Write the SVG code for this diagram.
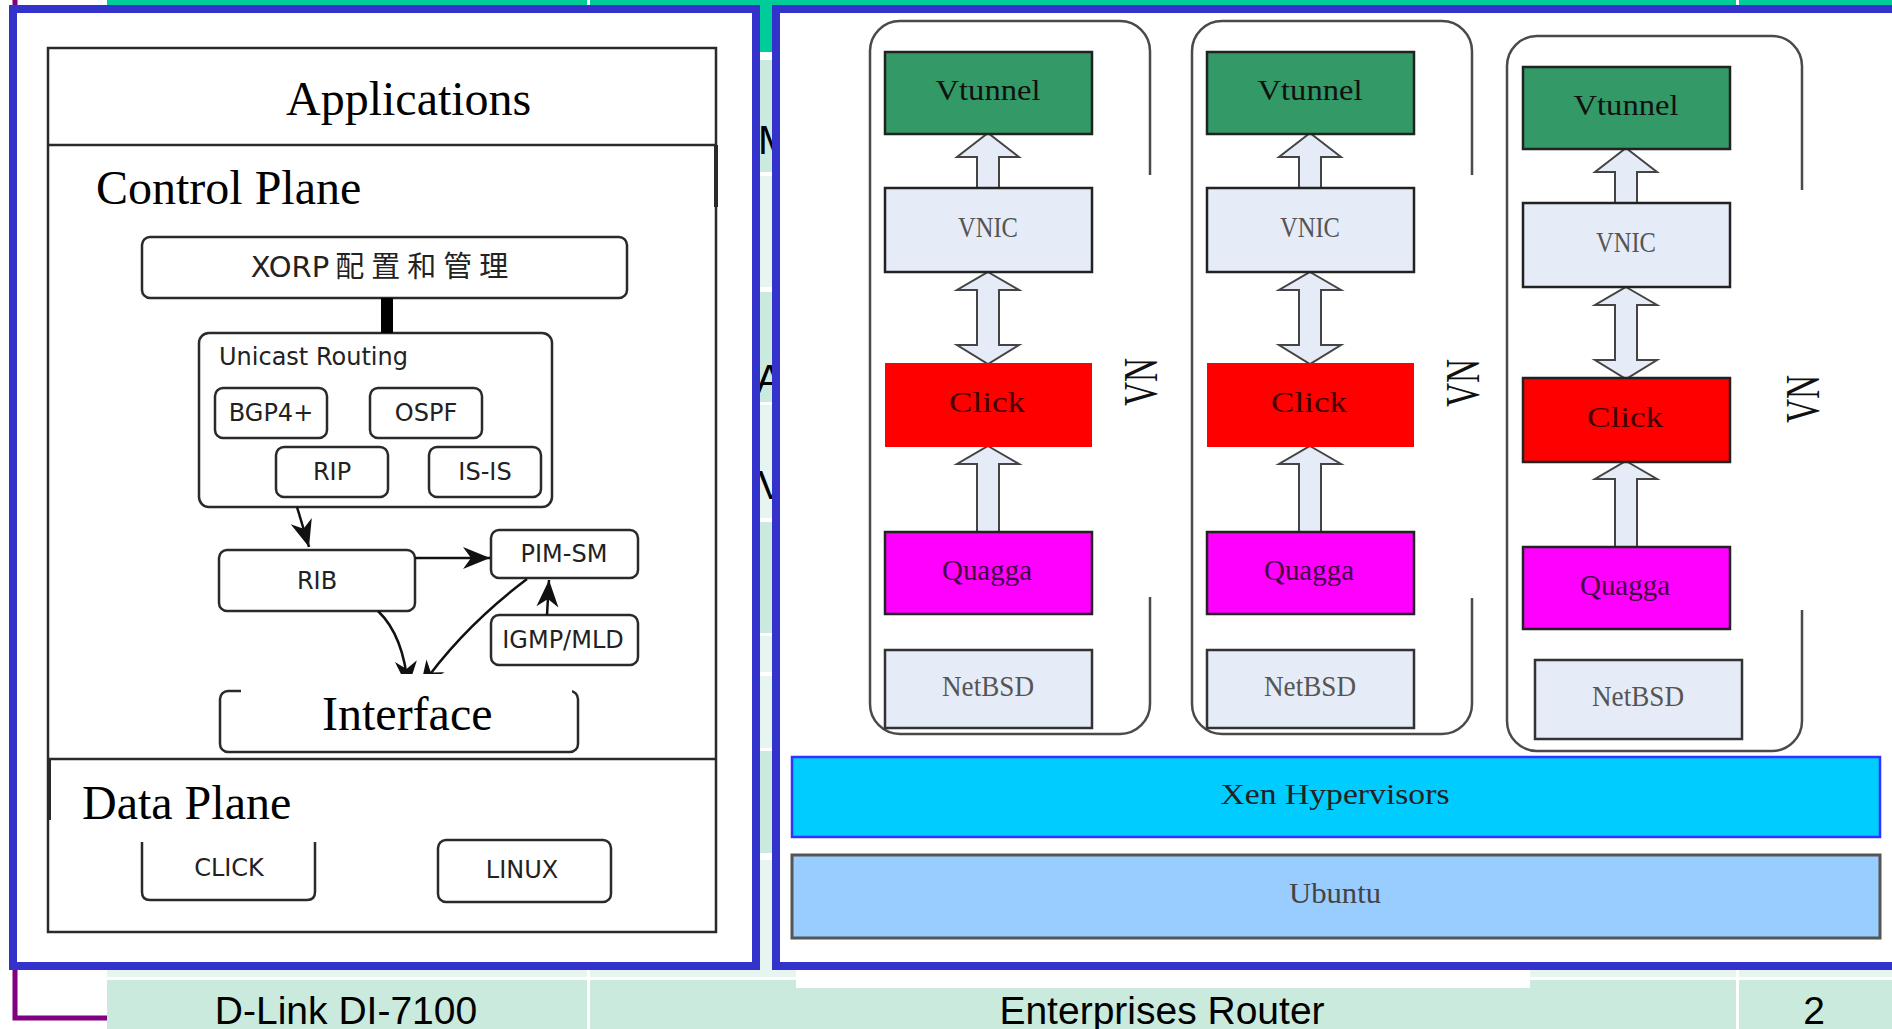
<svg xmlns="http://www.w3.org/2000/svg" width="1892" height="1029" viewBox="0 0 1892 1029">
<defs>
<style>
.dk{fill:#c9eadc}
.lt{fill:#e6f5ef}
.wl{fill:#ffffff}
.panel{fill:#ffffff;stroke:#3333cc;stroke-width:8}
.frame{fill:none;stroke:#2a2a2a;stroke-width:2.5}
.box{fill:#ffffff;stroke:#2a2a2a;stroke-width:2.5}
.lbl{font-family:"DejaVu Sans",sans-serif;font-size:24px;fill:#222;text-anchor:middle}
.big{font-family:"Liberation Serif",serif;font-size:48px;fill:#000}
.tbl{font-family:"Liberation Sans",Arial,sans-serif;font-size:39px;fill:#000;text-anchor:middle}
.conn{fill:none;stroke:#111;stroke-width:2.5}
.vm{fill:none;stroke:#4a4a4a;stroke-width:2.5}
.vt{fill:#339966;stroke:#222;stroke-width:2.5}
.nic{fill:#e6ecf7;stroke:#222;stroke-width:2.5}
.clk{fill:#ff0000}
.qg{fill:#ff00ff;stroke:#222;stroke-width:2.5}
.bsd{fill:#e6ecf7;stroke:#333;stroke-width:2.5}
.blk{fill:#e6ecf7;stroke:#444;stroke-width:2;stroke-linejoin:miter}
.st{font-family:"Liberation Serif",serif;font-size:30px;text-anchor:middle}
.vn{font-family:"Liberation Serif",serif;font-size:48px;text-anchor:middle;fill:#111}
</style>
<marker id="ah" markerUnits="userSpaceOnUse" viewBox="-28 -12 29 24" markerWidth="29" markerHeight="24" refX="0" refY="0" orient="auto">
<path d="M0,0 L-27,-11 L-19,0 L-27,11 Z" fill="#111"/>
</marker>
</defs>

<g id="background">
<rect x="0" y="0" width="1892" height="1029" fill="#ffffff"/>
<rect x="107" y="0" width="1785" height="52" fill="#00cc99"/>
<rect class="dk" x="107" y="60" width="1785" height="112"/>
<rect class="lt" x="107" y="176" width="1785" height="111"/>
<rect class="dk" x="107" y="292" width="1785" height="110"/>
<rect class="lt" x="107" y="405" width="1785" height="113"/>
<rect class="dk" x="107" y="522" width="1785" height="111"/>
<rect class="lt" x="107" y="636" width="1785" height="36"/>
<rect class="lt" x="107" y="676" width="1785" height="72"/>
<rect class="dk" x="107" y="751" width="1785" height="102"/>
<rect class="lt" x="107" y="860" width="1785" height="117"/>
<rect class="dk" x="107" y="980" width="1785" height="49"/>
<rect class="wl" x="587" y="0" width="3" height="1029"/>
<rect class="wl" x="1736" y="0" width="3" height="1029"/>
<text x="758" y="154" font-family="Liberation Sans, Arial, sans-serif" font-size="40" fill="#000">M</text>
<text x="756" y="393" font-family="Liberation Sans, Arial, sans-serif" font-size="40" fill="#000">A</text>
<text x="758" y="499" font-family="Liberation Sans, Arial, sans-serif" font-size="40" fill="#000">V</text>
<rect x="796" y="970" width="734" height="18" fill="#ffffff"/>
<text class="tbl" x="346" y="1024">D-Link DI-7100</text>
<text class="tbl" x="1162" y="1024">Enterprises Router</text>
<text class="tbl" x="1814" y="1024">2</text>
<path d="M15,0 L15,1018 L107,1018" fill="none" stroke="#800080" stroke-width="5"/>
</g>

<g id="left-panel">
<rect class="panel" x="13" y="9" width="743" height="957"/>
<g id="frame">
<path class="frame" d="M48,48 L716,48 L716,932 L48,932 Z"/>
<line class="frame" x1="48" y1="145" x2="716" y2="145"/>
<line class="frame" x1="48" y1="759" x2="716" y2="759"/>
<line x1="716" y1="145" x2="716" y2="207" stroke="#2a2a2a" stroke-width="4"/>
<line x1="49" y1="760" x2="49" y2="820" stroke="#2a2a2a" stroke-width="4"/>
</g>
<g id="applications"><text class="big" x="286" y="115">Applications</text></g>
<g id="control-plane"><text class="big" x="96" y="204">Control Plane</text></g>
<g id="xorp">
<rect class="box" x="142" y="237" width="485" height="61" rx="8"/>
<text x="383" y="277" text-anchor="middle" font-family="DejaVu Sans, sans-serif" font-size="29" fill="#222"><tspan>XORP</tspan><tspan dx="6" font-family="Noto Sans CJK SC, sans-serif" letter-spacing="7">配置和管理</tspan></text>
</g>
<g id="unicast">
<rect class="box" x="199" y="333" width="353" height="174" rx="10"/>
<text class="lbl" x="219" y="365" style="text-anchor:start">Unicast Routing</text>
</g>
<g id="bgp"><rect class="box" x="215" y="388" width="112" height="50" rx="8"/><text class="lbl" x="271" y="421">BGP4+</text></g>
<g id="ospf"><rect class="box" x="370" y="388" width="112" height="50" rx="8"/><text class="lbl" x="426" y="421">OSPF</text></g>
<g id="rip"><rect class="box" x="276" y="447" width="112" height="50" rx="8"/><text class="lbl" x="332" y="480">RIP</text></g>
<g id="isis"><rect class="box" x="429" y="447" width="112" height="50" rx="8"/><text class="lbl" x="485" y="480">IS-IS</text></g>
<g id="rib"><rect class="box" x="219" y="550" width="196" height="61" rx="8"/><text class="lbl" x="317" y="589">RIB</text></g>
<g id="pimsm"><rect class="box" x="491" y="530" width="147" height="48" rx="8"/><text class="lbl" x="564" y="562">PIM-SM</text></g>
<g id="igmp"><rect class="box" x="491" y="615" width="147" height="50" rx="8"/><text class="lbl" x="563" y="648">IGMP/MLD</text></g>
<g id="left-connectors">
<rect x="381" y="298" width="12" height="35" fill="#000"/>
<path class="conn" d="M297,507 L309,547" marker-end="url(#ah)"/>
<path class="conn" d="M415,558 L490,558" stroke-width="3.5" marker-end="url(#ah)"/>
<path class="conn" d="M547,615 L549,580" marker-end="url(#ah)"/>
<path class="conn" d="M378,611 Q404,636 408,688" marker-end="url(#ah)"/>
<path class="conn" d="M527,579 Q462,628 420,688" marker-end="url(#ah)"/>
</g>
<g id="interface">
<rect class="box" x="220" y="691" width="358" height="61" rx="8"/>
<rect x="241" y="674" width="331" height="19" fill="#ffffff"/>
<text class="big" x="322" y="730">Interface</text>
</g>
<g id="data-plane"><text class="big" x="82" y="819">Data Plane</text></g>
<g id="click-dp">
<path class="frame" d="M142,842 L142,892 Q142,900 150,900 L307,900 Q315,900 315,892 L315,842"/>
<text class="lbl" x="229" y="876">CLICK</text>
</g>
<g id="linux"><rect class="box" x="438" y="840" width="173" height="62" rx="8"/><text class="lbl" x="522" y="878">LINUX</text></g>
</g>

<g id="right-panel">
<rect class="panel" x="776" y="9" width="1130" height="957"/>
</g>

<g id="connectors">
<path class="blk" d="M988,133 L1019,157 L999,157 L999,188 L977,188 L977,157 L957,157 Z"/>
<path class="blk" d="M988,272 L1019,290 L999,290 L999,345 L1019,345 L988,364 L957,345 L977,345 L977,290 L957,290 Z"/>
<path class="blk" d="M988,446 L1019,464 L999,464 L999,532 L977,532 L977,464 L957,464 Z"/>
<g transform="translate(322,0)">
<path class="blk" d="M988,133 L1019,157 L999,157 L999,188 L977,188 L977,157 L957,157 Z"/>
<path class="blk" d="M988,272 L1019,290 L999,290 L999,345 L1019,345 L988,364 L957,345 L977,345 L977,290 L957,290 Z"/>
<path class="blk" d="M988,446 L1019,464 L999,464 L999,532 L977,532 L977,464 L957,464 Z"/>
</g>
<g transform="translate(638,15)">
<path class="blk" d="M988,133 L1019,157 L999,157 L999,188 L977,188 L977,157 L957,157 Z"/>
<path class="blk" d="M988,272 L1019,290 L999,290 L999,345 L1019,345 L988,364 L957,345 L977,345 L977,290 L957,290 Z"/>
<path class="blk" d="M988,446 L1019,464 L999,464 L999,532 L977,532 L977,464 L957,464 Z"/>
</g>
</g>

<g id="vm1">
<path class="vm" d="M1150,175 L1150,51 A30,30 0 0 0 1120,21 L900,21 A30,30 0 0 0 870,51 L870,704 A30,30 0 0 0 900,734 L1120,734 A30,30 0 0 0 1150,704 L1150,597"/>
<text class="vn" transform="translate(1157,382) rotate(-90)" textLength="48" lengthAdjust="spacingAndGlyphs">VN</text>
</g>
<g id="vm1-vtunnel"><rect class="vt" x="885" y="52" width="207" height="82"/><text class="st" x="988" y="100" fill="#111" textLength="105" lengthAdjust="spacingAndGlyphs">Vtunnel</text></g>
<g id="vm1-vnic"><rect class="nic" x="885" y="188" width="207" height="84"/><text class="st" x="988" y="237" fill="#555" textLength="60" lengthAdjust="spacingAndGlyphs">VNIC</text></g>
<g id="vm1-click"><rect class="clk" x="885" y="363" width="207" height="84"/><text class="st" x="987" y="412" fill="#400" textLength="76" lengthAdjust="spacingAndGlyphs">Click</text></g>
<g id="vm1-quagga"><rect class="qg" x="885" y="532" width="207" height="82"/><text class="st" x="987" y="580" fill="#404" textLength="90" lengthAdjust="spacingAndGlyphs">Quagga</text></g>
<g id="vm1-netbsd"><rect class="bsd" x="885" y="650" width="207" height="78"/><text class="st" x="988" y="696" fill="#555" textLength="92" lengthAdjust="spacingAndGlyphs">NetBSD</text></g>

<g id="vm2">
<path class="vm" d="M1472,175 L1472,51 A30,30 0 0 0 1442,21 L1222,21 A30,30 0 0 0 1192,51 L1192,704 A30,30 0 0 0 1222,734 L1442,734 A30,30 0 0 0 1472,704 L1472,598"/>
<text class="vn" transform="translate(1479,383) rotate(-90)" textLength="48" lengthAdjust="spacingAndGlyphs">VN</text>
</g>
<g id="vm2-vtunnel"><rect class="vt" x="1207" y="52" width="207" height="82"/><text class="st" x="1310" y="100" fill="#111" textLength="105" lengthAdjust="spacingAndGlyphs">Vtunnel</text></g>
<g id="vm2-vnic"><rect class="nic" x="1207" y="188" width="207" height="84"/><text class="st" x="1310" y="237" fill="#555" textLength="60" lengthAdjust="spacingAndGlyphs">VNIC</text></g>
<g id="vm2-click"><rect class="clk" x="1207" y="363" width="207" height="84"/><text class="st" x="1309" y="412" fill="#400" textLength="76" lengthAdjust="spacingAndGlyphs">Click</text></g>
<g id="vm2-quagga"><rect class="qg" x="1207" y="532" width="207" height="82"/><text class="st" x="1309" y="580" fill="#404" textLength="90" lengthAdjust="spacingAndGlyphs">Quagga</text></g>
<g id="vm2-netbsd"><rect class="bsd" x="1207" y="650" width="207" height="78"/><text class="st" x="1310" y="696" fill="#555" textLength="92" lengthAdjust="spacingAndGlyphs">NetBSD</text></g>

<g id="vm3">
<path class="vm" d="M1802,190 L1802,66 A30,30 0 0 0 1772,36 L1537,36 A30,30 0 0 0 1507,66 L1507,721 A30,30 0 0 0 1537,751 L1772,751 A30,30 0 0 0 1802,721 L1802,610"/>
<text class="vn" transform="translate(1819,399) rotate(-90)" textLength="48" lengthAdjust="spacingAndGlyphs">VN</text>
</g>
<g id="vm3-vtunnel"><rect class="vt" x="1523" y="67" width="207" height="82"/><text class="st" x="1626" y="115" fill="#111" textLength="105" lengthAdjust="spacingAndGlyphs">Vtunnel</text></g>
<g id="vm3-vnic"><rect class="nic" x="1523" y="203" width="207" height="84"/><text class="st" x="1626" y="252" fill="#555" textLength="60" lengthAdjust="spacingAndGlyphs">VNIC</text></g>
<g id="vm3-click"><rect class="clk" x="1523" y="378" width="207" height="84" stroke="#222" stroke-width="2.5"/><text class="st" x="1625" y="427" fill="#400" textLength="76" lengthAdjust="spacingAndGlyphs">Click</text></g>
<g id="vm3-quagga"><rect class="qg" x="1523" y="547" width="207" height="82"/><text class="st" x="1625" y="595" fill="#404" textLength="90" lengthAdjust="spacingAndGlyphs">Quagga</text></g>
<g id="vm3-netbsd"><rect class="bsd" x="1535" y="660" width="207" height="79"/><text class="st" x="1638" y="706" fill="#555" textLength="92" lengthAdjust="spacingAndGlyphs">NetBSD</text></g>

<g id="xen"><rect x="792" y="757" width="1088" height="80" fill="#00ccff" stroke="#3333ff" stroke-width="2.5"/><text class="st" x="1335" y="804" fill="#222" textLength="229" lengthAdjust="spacingAndGlyphs">Xen Hypervisors</text></g>
<g id="ubuntu"><rect x="792" y="855" width="1088" height="83" fill="#99ccff" stroke="#555" stroke-width="3"/><text class="st" x="1335" y="903" fill="#444" textLength="92" lengthAdjust="spacingAndGlyphs">Ubuntu</text></g>
</svg>
